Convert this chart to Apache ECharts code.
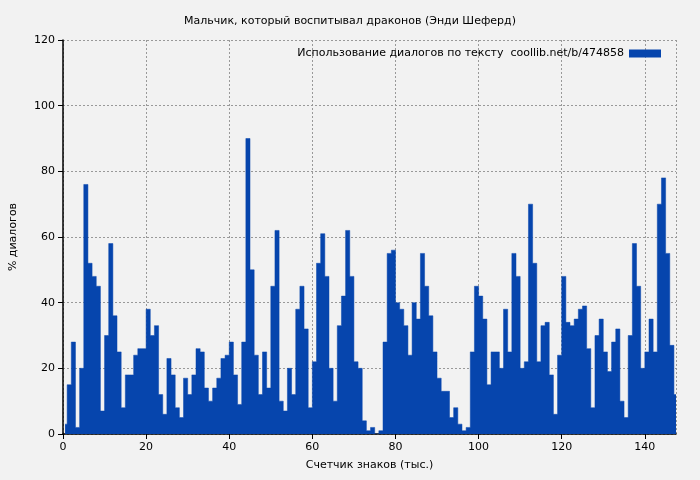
<!DOCTYPE html>
<html>
<head>
<meta charset="UTF-8">
<title>Мальчик, который воспитывал драконов</title>
<script src="https://cdn.jsdelivr.net/npm/echarts@6/dist/echarts.min.js"></script>
</head>
<body style="margin:0;background:#f2f2f2">
<div id="chartmain" style="width:700px;height:480px;"></div>
<script>
// % диалогов по каждой тысяче знаков (0..147)
var dialogShare = [
  3, 15, 28, 2, 20, 76, 52, 48, 45, 7,
  30, 58, 36, 25, 8, 18, 18, 24, 26, 26,
  38, 30, 33, 12, 6, 23, 18, 8, 5, 17,
  12, 18, 26, 25, 14, 10, 14, 17, 23, 24,
  28, 18, 9, 28, 90, 50, 24, 12, 25, 14,
  45, 62, 10, 7, 20, 12, 38, 45, 32, 8,
  22, 52, 61, 48, 20, 10, 33, 42, 62, 48,
  22, 20, 4, 1, 2, 0, 1, 28, 55, 56,
  40, 38, 33, 24, 40, 35, 55, 45, 36, 25,
  17, 13, 13, 5, 8, 3, 1, 2, 25, 45,
  42, 35, 15, 25, 25, 20, 38, 25, 55, 48,
  20, 22, 70, 52, 22, 33, 34, 18, 6, 24,
  48, 34, 33, 35, 38, 39, 26, 8, 30, 35,
  25, 19, 28, 32, 10, 5, 30, 58, 45, 20,
  25, 35, 25, 70, 78, 55, 27, 12
];
var xTicks = [0, 20, 40, 60, 80, 100, 120, 140];
var yTicks = [0, 20, 40, 60, 80, 100, 120];

var points = [];
for (var i = 0; i < dialogShare.length; i++) {
  points.push([i + 0.5, dialogShare[i]]);
}

var mychart = echarts.init(document.getElementById('chartmain'));
var font = 'DejaVu Sans';
mychart.setOption({
  backgroundColor: '#f2f2f2',
  animation: false,
  textStyle: { fontFamily: font },
  title: {
    text: 'Мальчик, который воспитывал драконов (Энди Шеферд)',
    left: 'center', top: 11,
    textStyle: { fontSize: 11, fontWeight: 'normal', color: '#000', fontFamily: font }
  },
  legend: {
    right: 34, top: 43,
    align: 'right',
    itemWidth: 32, itemHeight: 8, itemGap: 6,
    icon: 'rect',
    textStyle: { fontSize: 11, color: '#000', fontFamily: font },
    data: ['Использование диалогов по тексту  coollib.net/b/474858']
  },
  grid: { left: 62, right: 24, top: 40, bottom: 46 },
  xAxis: {
    type: 'value', min: 0, max: 147.5, interval: 20,
    name: 'Счетчик знаков (тыс.)', nameLocation: 'middle', nameGap: 26,
    nameTextStyle: { fontSize: 11, color: '#000' },
    axisLine: { lineStyle: { color: '#000', width: 1.5 } },
    axisTick: { length: 5, inside: false, lineStyle: { color: '#000' } },
    axisLabel: { color: '#000', fontSize: 11, showMaxLabel: false,
      formatter: function (v) { return xTicks.indexOf(v) >= 0 ? v : ''; } },
    splitLine: { lineStyle: { color: '#999', type: [2, 2] } }
  },
  yAxis: {
    type: 'value', min: 0, max: 120, interval: 20,
    name: '% диалогов', nameLocation: 'middle', nameGap: 44,
    nameTextStyle: { fontSize: 11, color: '#000' },
    axisLine: { show: true, lineStyle: { color: '#000', width: 1.5 } },
    axisTick: { show: true, length: 5, lineStyle: { color: '#000' } },
    axisLabel: { color: '#000', fontSize: 11,
      formatter: function (v) { return yTicks.indexOf(v) >= 0 ? v : ''; } },
    splitLine: { lineStyle: { color: '#999', type: [2, 2] } }
  },
  series: [{
    name: 'Использование диалогов по тексту  coollib.net/b/474858',
    type: 'line',
    step: 'middle',
    symbol: 'none',
    data: points,
    color: '#0645ad',
    lineStyle: { width: 0.5, color: '#0645ad' },
    areaStyle: { color: '#0645ad', opacity: 1 }
  }]
});
</script>
</body>
</html>
